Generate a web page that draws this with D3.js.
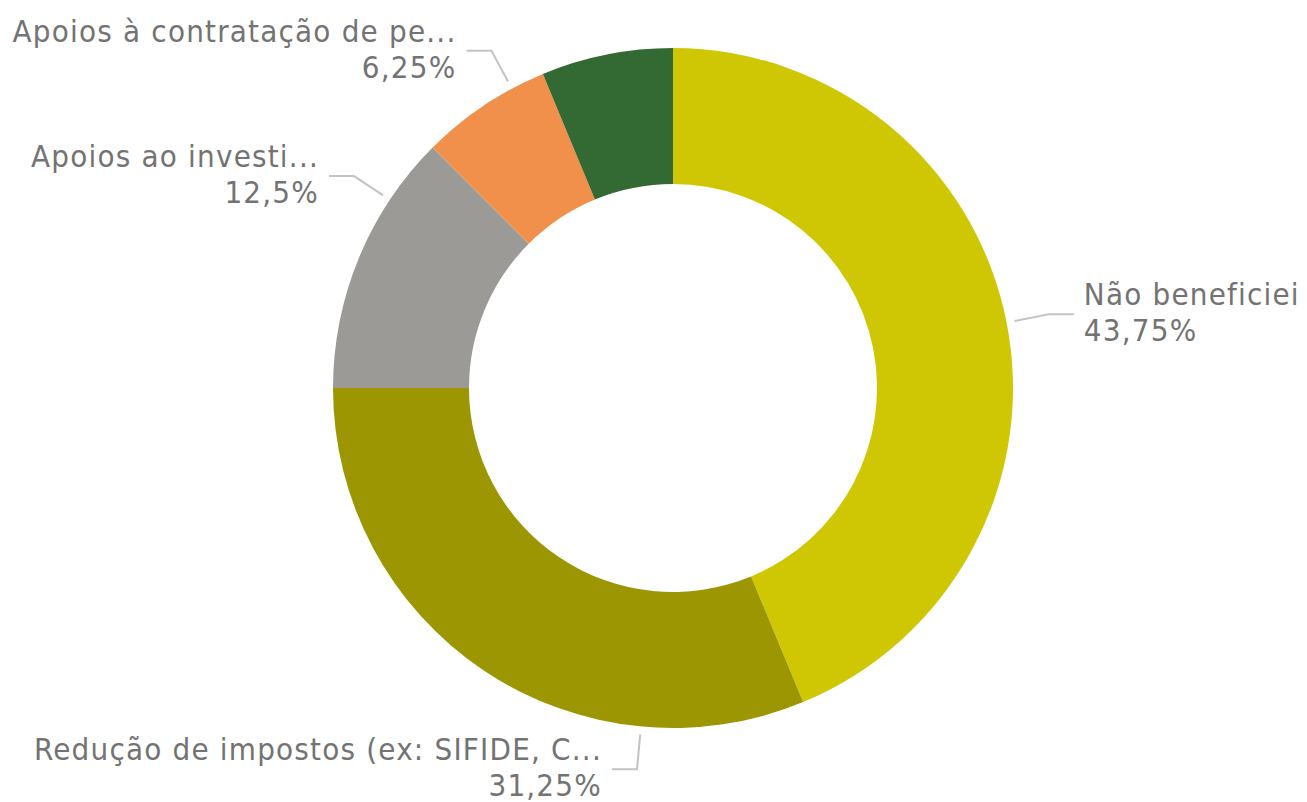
<!DOCTYPE html>
<html><head><meta charset="utf-8">
<script src="https://cdn.jsdelivr.net/npm/d3@7"></script>
<style>body { margin: 0; background: #fff; }</style>
</head><body>
<script>
const width = 1307;
const height = 802;

// Data (clockwise from 12 o'clock)
const categories = [
  'Não beneficiei',
  'Redução de impostos (ex: SIFIDE, C...',
  'Apoios ao investi...',
  'Apoios à contratação de pe...',
  'Outros',
];
const values = [43.75, 31.25, 12.5, 6.25, 6.25];
const colors = ['#CFC704', '#9C9602', '#9B9A97', '#F0904A', '#336933'];
const valueLabels = ['43,75%', '31,25%', '12,5%', '6,25%', null];

// Where each data label sits (Power BI nudges these away from the slice middle)
const labelAngles = [78.9, 185.4, 303.6, 331.7, null]; // degrees, clockwise from top
const labelSides = ['right', 'left', 'left', 'left', null];

const cx = 673;
const cy = 388;
const outerR = 340;
const innerR = 204;

const svg = d3
  .select('body')
  .append('svg')
  .attr('width', width)
  .attr('height', height);

const data = categories.map((c, i) => ({
  name: c,
  value: values[i],
  color: colors[i],
  label: valueLabels[i],
  angle: labelAngles[i],
  side: labelSides[i],
}));

const pie = d3.pie().value((d) => d.value).sort(null);
const arc = d3.arc().innerRadius(innerR).outerRadius(outerR);

const g = svg.append('g').attr('transform', `translate(${cx},${cy})`);

g.selectAll('path.slice')
  .data(pie(data))
  .enter()
  .append('path')
  .attr('class', 'slice')
  .attr('d', arc)
  .attr('fill', (d) => d.data.color);

// leader lines + labels
const anchorArc = d3.arc().innerRadius(348).outerRadius(348);
const elbowArc = d3.arc().innerRadius(383).outerRadius(383);

pie(data).forEach((d) => {
  if (!d.data.label) return;
  const a = (d.data.angle * Math.PI) / 180;
  const fake = { startAngle: a, endAngle: a };
  const p1 = anchorArc.centroid(fake);
  const p2 = elbowArc.centroid(fake);
  const dir = d.data.side === 'right' ? 1 : -1;
  const p3 = [p2[0] + dir * 25, p2[1]];

  g.append('polyline')
    .attr('points', [p1, p2, p3].map((p) => p.join(',')).join(' '))
    .attr('fill', 'none')
    .attr('stroke', '#C3C3C3')
    .attr('stroke-width', 2);

  const tx = p3[0] + dir * 10;
  const text = g
    .append('text')
    .attr('text-anchor', dir > 0 ? 'start' : 'end')
    .style('font-family', 'DejaVu Sans Condensed')
    .style('font-size', '31px')
    .style('letter-spacing', '1.2px')
    .attr('fill', '#737373');
  text.append('tspan').attr('x', tx).attr('y', p2[1] - 9).text(d.data.name);
  text.append('tspan').attr('x', tx).attr('y', p2[1] + 27).text(d.data.label);
});
</script>
</body></html>
